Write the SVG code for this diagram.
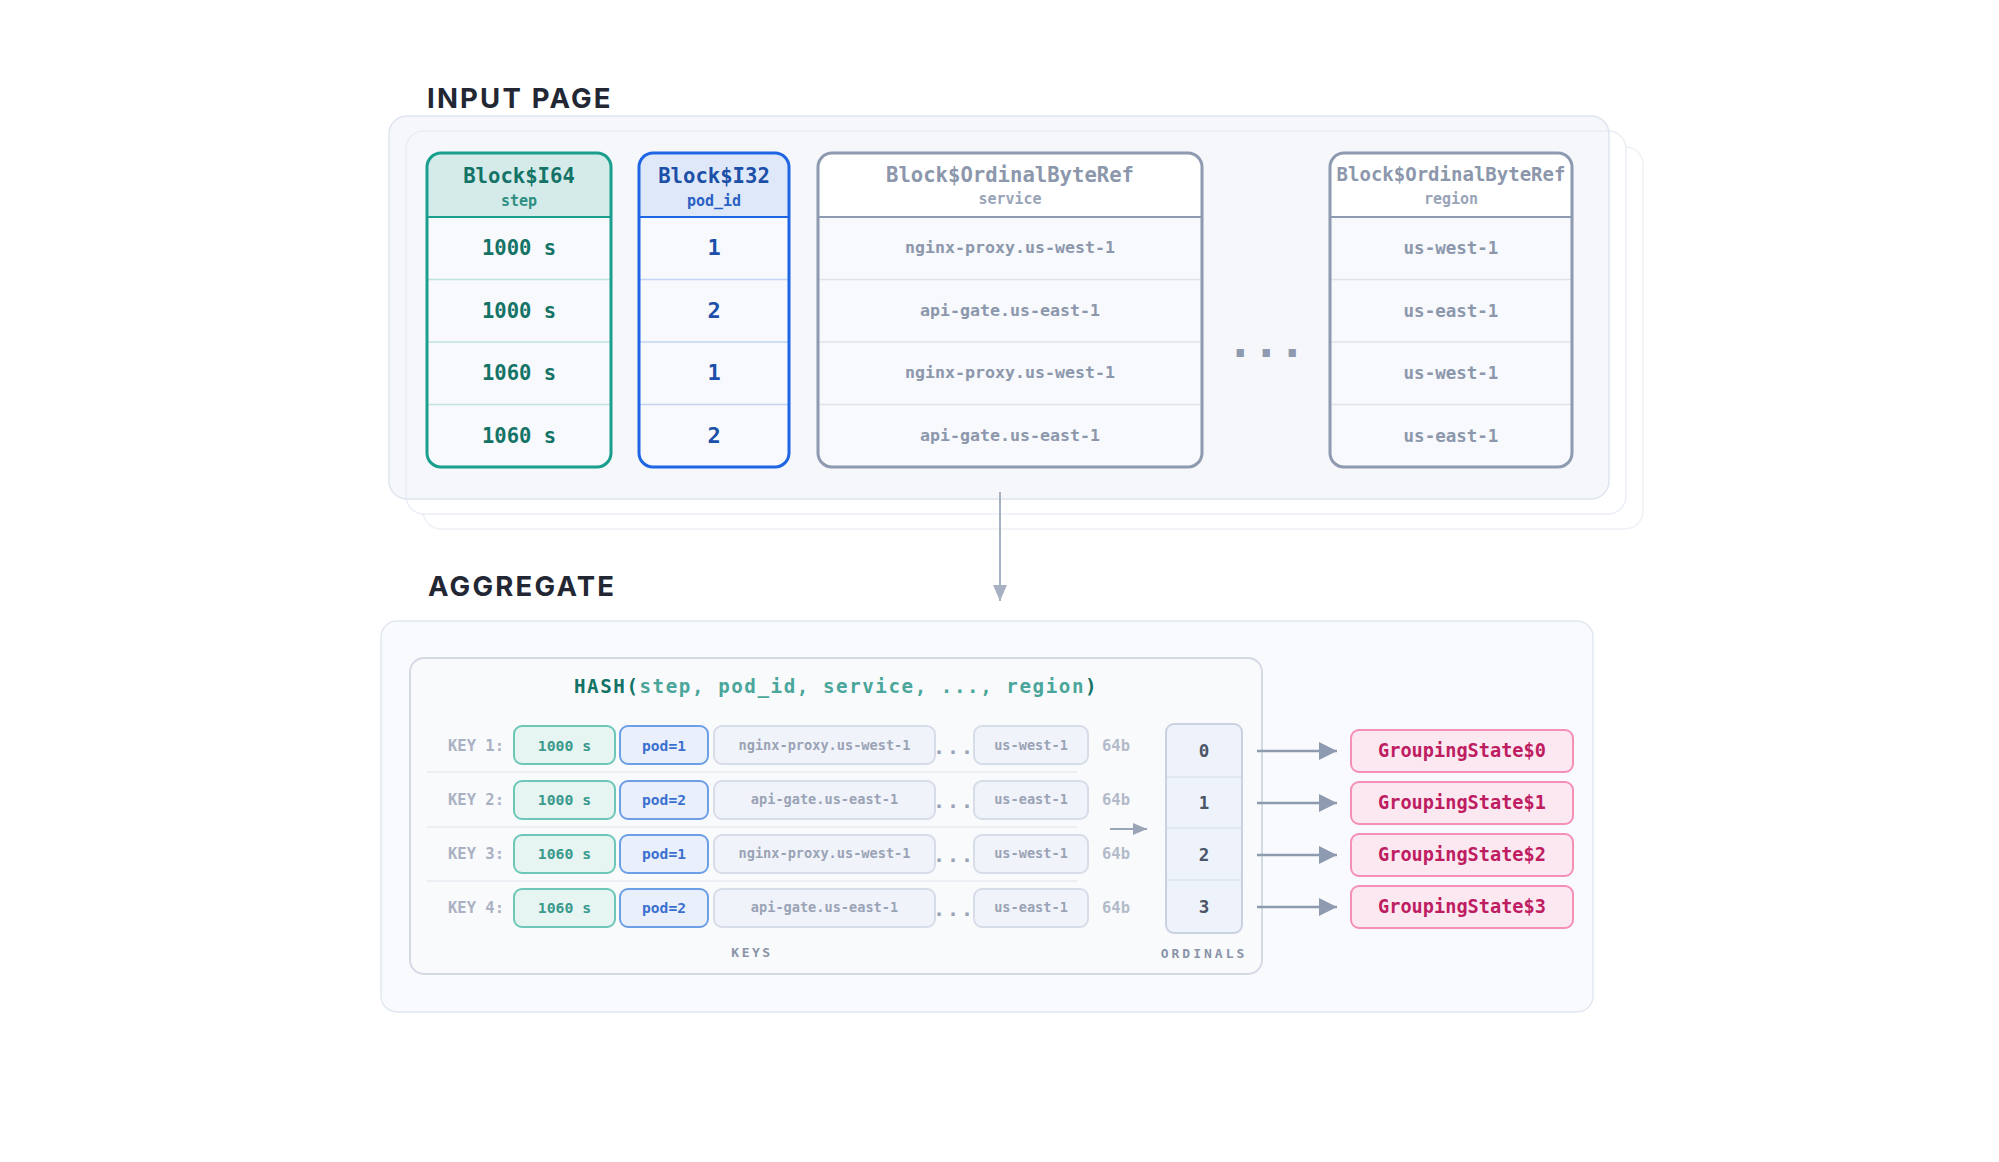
<svg xmlns="http://www.w3.org/2000/svg" width="1999" height="1162" viewBox="0 0 1999 1162">
<defs>
<style>
.mono{font-family:"DejaVu Sans Mono","Liberation Mono",monospace;font-weight:700}
.title{font-family:Inter,"Liberation Sans",sans-serif;font-weight:700;font-size:27.5px;letter-spacing:2.2px;fill:#222733}
.mid{text-anchor:middle}
.teal-t{fill:#137366}
.blue-t{fill:#1b4fa8}
.gray-t{fill:#8c97ac}
.rowsep-teal{stroke:#bfe3de;stroke-width:1.5}
.rowsep-blue{stroke:#c3d5f3;stroke-width:1.5}
.rowsep-gray{stroke:#dfe3ea;stroke-width:1.5}
.cell-step{fill:#e6f4f2;stroke:#6cc7b8;stroke-width:2}
.cell-pod{fill:#e9effb;stroke:#6d9ee8;stroke-width:2}
.cell-str{fill:#f0f3fa;stroke:#d6dce8;stroke-width:2}
.ct-step{fill:#3a9a8c;font-size:14.8px}
.ct-pod{fill:#3b6fd0;font-size:14.6px}
.ct-str{fill:#9aa3b5;font-size:13.6px}
.keylbl{fill:#a9b1c3;font-size:15.5px}
.b64{fill:#b3bbca;font-size:15.5px}
.dots{fill:#9aa3b5;font-size:20px;letter-spacing:2px}
.gs{fill:#fce8f1;stroke:#f48fb8;stroke-width:2}
.gst{fill:#be1d62;font-size:18.6px}
.conn{stroke:#8e9ab0;stroke-width:2.5;fill:none}
</style>
<marker id="ah" markerUnits="userSpaceOnUse" markerWidth="18" markerHeight="18" viewBox="0 0 16 16" refX="16" refY="8" orient="auto">
<path d="M0,0 L16,8 L0,16 Z" fill="#8e9ab0"/>
</marker>
<marker id="ahs" markerUnits="userSpaceOnUse" markerWidth="14" markerHeight="14" viewBox="0 0 14 14" refX="14" refY="7" orient="auto">
<path d="M0,1 L14,7 L0,13 Z" fill="#9aa5b8"/>
</marker>
<marker id="ahd" markerUnits="userSpaceOnUse" markerWidth="16" markerHeight="16" viewBox="0 0 16 16" refX="16" refY="8" orient="auto">
<path d="M0,1 L16,8 L0,15 Z" fill="#a7b1c3"/>
</marker>
</defs>
<rect width="1999" height="1162" fill="#ffffff"/>

<!-- INPUT PAGE -->
<g id="input-page">
<text class="title" x="427" y="108">INPUT PAGE</text>
<rect x="423" y="147" width="1220" height="382" rx="18" fill="#ffffff" stroke="#eef1f6" stroke-width="1.5"/>
<rect x="406" y="131" width="1220" height="383" rx="18" fill="#ffffff" stroke="#eaeef5" stroke-width="1.5"/>
<rect x="389" y="116" width="1220" height="383" rx="18" fill="#e6ecf6" fill-opacity="0.4" stroke="#dfe5ef" stroke-width="1.5"/>
</g>

<g id="block-i64">
<rect x="427" y="153" width="184" height="314" rx="14" fill="#f7f9fc"/>
<path d="M427,217 V167 Q427,153 441,153 H597 Q611,153 611,167 V217 Z" fill="#d4ebea"/>
<line class="rowsep-teal" x1="428" y1="279.5" x2="610" y2="279.5"/>
<line class="rowsep-teal" x1="428" y1="342" x2="610" y2="342"/>
<line class="rowsep-teal" x1="428" y1="404.5" x2="610" y2="404.5"/>
<line x1="428" y1="217" x2="610" y2="217" stroke="#1a9e8e" stroke-width="2"/>
<rect x="427" y="153" width="184" height="314" rx="14" fill="none" stroke="#1a9e8e" stroke-width="3"/>
<text class="mono mid teal-t" x="519" y="183" font-size="20.6">Block$I64</text>
<text class="mono mid" x="519" y="206" font-size="15" fill="#2f8e82">step</text>
<text class="mono mid teal-t" x="519" y="255" font-size="20.5">1000 s</text>
<text class="mono mid teal-t" x="519" y="318" font-size="20.5">1000 s</text>
<text class="mono mid teal-t" x="519" y="380" font-size="20.5">1060 s</text>
<text class="mono mid teal-t" x="519" y="443" font-size="20.5">1060 s</text>
</g>

<g id="block-i32">
<rect x="639" y="153" width="150" height="314" rx="14" fill="#f7f9fc"/>
<path d="M639,217 V167 Q639,153 653,153 H775 Q789,153 789,167 V217 Z" fill="#dfe8f8"/>
<line class="rowsep-blue" x1="640" y1="279.5" x2="788" y2="279.5"/>
<line class="rowsep-blue" x1="640" y1="342" x2="788" y2="342"/>
<line class="rowsep-blue" x1="640" y1="404.5" x2="788" y2="404.5"/>
<line x1="640" y1="217" x2="788" y2="217" stroke="#1f66e5" stroke-width="2"/>
<rect x="639" y="153" width="150" height="314" rx="14" fill="none" stroke="#1f66e5" stroke-width="3"/>
<text class="mono mid blue-t" x="714" y="183" font-size="20.6">Block$I32</text>
<text class="mono mid" x="714" y="206" font-size="15" fill="#2a5fc4">pod_id</text>
<text class="mono mid blue-t" x="714" y="255" font-size="22">1</text>
<text class="mono mid blue-t" x="714" y="318" font-size="22">2</text>
<text class="mono mid blue-t" x="714" y="380" font-size="22">1</text>
<text class="mono mid blue-t" x="714" y="443" font-size="22">2</text>
</g>

<g id="block-service">
<rect x="818" y="153" width="384" height="314" rx="14" fill="#f7f9fc"/>
<path d="M818,217 V167 Q818,153 832,153 H1188 Q1202,153 1202,167 V217 Z" fill="#ffffff"/>
<line class="rowsep-gray" x1="819" y1="279.5" x2="1201" y2="279.5"/>
<line class="rowsep-gray" x1="819" y1="342" x2="1201" y2="342"/>
<line class="rowsep-gray" x1="819" y1="404.5" x2="1201" y2="404.5"/>
<line x1="819" y1="217" x2="1201" y2="217" stroke="#8e9ab0" stroke-width="2"/>
<rect x="818" y="153" width="384" height="314" rx="14" fill="none" stroke="#8e9ab0" stroke-width="3"/>
<text class="mono mid gray-t" x="1010" y="182" font-size="20.6">Block$OrdinalByteRef</text>
<text class="mono mid" x="1010" y="204" font-size="15" fill="#9aa4b8">service</text>
<text class="mono mid gray-t" x="1010" y="253" font-size="16.6">nginx-proxy.us-west-1</text>
<text class="mono mid gray-t" x="1010" y="316" font-size="16.6">api-gate.us-east-1</text>
<text class="mono mid gray-t" x="1010" y="378" font-size="16.6">nginx-proxy.us-west-1</text>
<text class="mono mid gray-t" x="1010" y="441" font-size="16.6">api-gate.us-east-1</text>
</g>

<g id="ellipsis-top">
<text class="mono" x="1227" y="357" font-size="44" letter-spacing="-0.5" fill="#8e9ab0">...</text>
</g>

<g id="block-region">
<rect x="1330" y="153" width="242" height="314" rx="14" fill="#f7f9fc"/>
<path d="M1330,217 V167 Q1330,153 1344,153 H1558 Q1572,153 1572,167 V217 Z" fill="#ffffff"/>
<line class="rowsep-gray" x1="1331" y1="279.5" x2="1571" y2="279.5"/>
<line class="rowsep-gray" x1="1331" y1="342" x2="1571" y2="342"/>
<line class="rowsep-gray" x1="1331" y1="404.5" x2="1571" y2="404.5"/>
<line x1="1331" y1="217" x2="1571" y2="217" stroke="#8e9ab0" stroke-width="2"/>
<rect x="1330" y="153" width="242" height="314" rx="14" fill="none" stroke="#8e9ab0" stroke-width="3"/>
<text class="mono mid gray-t" x="1451" y="181" font-size="19">Block$OrdinalByteRef</text>
<text class="mono mid" x="1451" y="204" font-size="15" fill="#9aa4b8">region</text>
<text class="mono mid gray-t" x="1451" y="254" font-size="17.5">us-west-1</text>
<text class="mono mid gray-t" x="1451" y="317" font-size="17.5">us-east-1</text>
<text class="mono mid gray-t" x="1451" y="379" font-size="17.5">us-west-1</text>
<text class="mono mid gray-t" x="1451" y="442" font-size="17.5">us-east-1</text>
</g>

<!-- AGGREGATE -->
<g id="aggregate">
<text class="title" x="428" y="596">AGGREGATE</text>
<rect x="381" y="621" width="1212" height="391" rx="16" fill="#f9fafd" stroke="#e1e7f1" stroke-width="1.5"/>
</g>

<g id="hash-table">
<rect x="410" y="658" width="852" height="316" rx="14" fill="#f9fafc" stroke="#d3dae6" stroke-width="2"/>
<text class="mono" x="574" y="693" font-size="19.2" letter-spacing="1.55"><tspan fill="#137366">HASH(</tspan><tspan fill="#4aa69a">step, pod_id, service, ..., region</tspan><tspan fill="#137366">)</tspan></text>
<line x1="427" y1="772" x2="1077" y2="772" stroke="#e6eaf1" stroke-width="1.5"/>
<line x1="427" y1="827" x2="1077" y2="827" stroke="#e6eaf1" stroke-width="1.5"/>
<line x1="427" y1="881" x2="1077" y2="881" stroke="#e6eaf1" stroke-width="1.5"/>
<text class="mono mid" x="752" y="957" font-size="13" letter-spacing="2.5" fill="#8a94a8">KEYS</text>
</g>

<g id="key-1">
<text class="mono keylbl" x="448" y="751">KEY 1:</text>
<rect class="cell-step" x="514" y="726" width="101" height="38" rx="8"/>
<text class="mono mid ct-step" x="564.5" y="751">1000 s</text>
<rect class="cell-pod" x="620" y="726" width="88" height="38" rx="8"/>
<text class="mono mid ct-pod" x="664" y="751">pod=1</text>
<rect class="cell-str" x="714" y="726" width="221" height="38" rx="8"/>
<text class="mono mid ct-str" x="824.5" y="750">nginx-proxy.us-west-1</text>
<text class="mono dots" x="933" y="754">...</text>
<rect class="cell-str" x="974" y="726" width="114" height="38" rx="8"/>
<text class="mono mid ct-str" x="1031" y="750">us-west-1</text>
<text class="mono b64" x="1102" y="751">64b</text>
</g>

<g id="key-2">
<text class="mono keylbl" x="448" y="805">KEY 2:</text>
<rect class="cell-step" x="514" y="781" width="101" height="38" rx="8"/>
<text class="mono mid ct-step" x="564.5" y="805">1000 s</text>
<rect class="cell-pod" x="620" y="781" width="88" height="38" rx="8"/>
<text class="mono mid ct-pod" x="664" y="805">pod=2</text>
<rect class="cell-str" x="714" y="781" width="221" height="38" rx="8"/>
<text class="mono mid ct-str" x="824.5" y="804">api-gate.us-east-1</text>
<text class="mono dots" x="933" y="808">...</text>
<rect class="cell-str" x="974" y="781" width="114" height="38" rx="8"/>
<text class="mono mid ct-str" x="1031" y="804">us-east-1</text>
<text class="mono b64" x="1102" y="805">64b</text>
</g>

<g id="key-3">
<text class="mono keylbl" x="448" y="859">KEY 3:</text>
<rect class="cell-step" x="514" y="835" width="101" height="38" rx="8"/>
<text class="mono mid ct-step" x="564.5" y="859">1060 s</text>
<rect class="cell-pod" x="620" y="835" width="88" height="38" rx="8"/>
<text class="mono mid ct-pod" x="664" y="859">pod=1</text>
<rect class="cell-str" x="714" y="835" width="221" height="38" rx="8"/>
<text class="mono mid ct-str" x="824.5" y="858">nginx-proxy.us-west-1</text>
<text class="mono dots" x="933" y="862">...</text>
<rect class="cell-str" x="974" y="835" width="114" height="38" rx="8"/>
<text class="mono mid ct-str" x="1031" y="858">us-west-1</text>
<text class="mono b64" x="1102" y="859">64b</text>
</g>

<g id="key-4">
<text class="mono keylbl" x="448" y="913">KEY 4:</text>
<rect class="cell-step" x="514" y="889" width="101" height="38" rx="8"/>
<text class="mono mid ct-step" x="564.5" y="913">1060 s</text>
<rect class="cell-pod" x="620" y="889" width="88" height="38" rx="8"/>
<text class="mono mid ct-pod" x="664" y="913">pod=2</text>
<rect class="cell-str" x="714" y="889" width="221" height="38" rx="8"/>
<text class="mono mid ct-str" x="824.5" y="912">api-gate.us-east-1</text>
<text class="mono dots" x="933" y="916">...</text>
<rect class="cell-str" x="974" y="889" width="114" height="38" rx="8"/>
<text class="mono mid ct-str" x="1031" y="912">us-east-1</text>
<text class="mono b64" x="1102" y="913">64b</text>
</g>

<g id="ordinals">
<rect x="1166" y="724" width="76" height="209" rx="8" fill="#eef2fa"/>
<line x1="1167" y1="777" x2="1241" y2="777" stroke="#dde3ee" stroke-width="1.5"/>
<line x1="1167" y1="828" x2="1241" y2="828" stroke="#dde3ee" stroke-width="1.5"/>
<line x1="1167" y1="880" x2="1241" y2="880" stroke="#dde3ee" stroke-width="1.5"/>
<rect x="1166" y="724" width="76" height="209" rx="8" fill="none" stroke="#c9d2e0" stroke-width="2"/>
<text class="mono mid" x="1204" y="757" font-size="17.5" fill="#4a5568">0</text>
<text class="mono mid" x="1204" y="809" font-size="17.5" fill="#4a5568">1</text>
<text class="mono mid" x="1204" y="861" font-size="17.5" fill="#4a5568">2</text>
<text class="mono mid" x="1204" y="913" font-size="17.5" fill="#4a5568">3</text>
<text class="mono mid" x="1204" y="958" font-size="13" letter-spacing="3" fill="#8a94a8">ORDINALS</text>
</g>

<g id="gs-0">
<rect class="gs" x="1351" y="730" width="222" height="42" rx="8"/>
<text class="mono mid gst" x="1462" y="757">GroupingState$0</text>
</g>
<g id="gs-1">
<rect class="gs" x="1351" y="782" width="222" height="42" rx="8"/>
<text class="mono mid gst" x="1462" y="809">GroupingState$1</text>
</g>
<g id="gs-2">
<rect class="gs" x="1351" y="834" width="222" height="42" rx="8"/>
<text class="mono mid gst" x="1462" y="861">GroupingState$2</text>
</g>
<g id="gs-3">
<rect class="gs" x="1351" y="886" width="222" height="42" rx="8"/>
<text class="mono mid gst" x="1462" y="913">GroupingState$3</text>
</g>

<g id="connectors">
<line x1="1000" y1="492" x2="1000" y2="601" stroke="#a7b1c3" stroke-width="2" marker-end="url(#ahd)"/>
<line x1="1110" y1="829" x2="1147" y2="829" stroke="#9aa5b8" stroke-width="2" marker-end="url(#ahs)"/>
<line class="conn" x1="1257" y1="751" x2="1337" y2="751" marker-end="url(#ah)"/>
<line class="conn" x1="1257" y1="803" x2="1337" y2="803" marker-end="url(#ah)"/>
<line class="conn" x1="1257" y1="855" x2="1337" y2="855" marker-end="url(#ah)"/>
<line class="conn" x1="1257" y1="907" x2="1337" y2="907" marker-end="url(#ah)"/>
</g>
</svg>
